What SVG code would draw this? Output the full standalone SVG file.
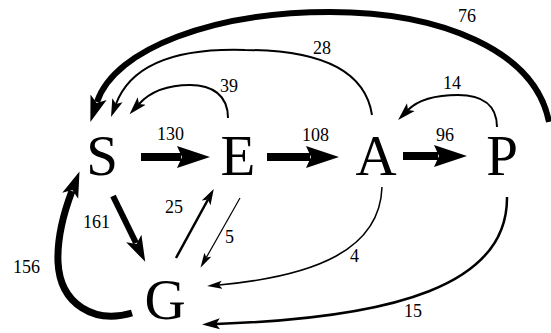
<svg xmlns="http://www.w3.org/2000/svg" width="551" height="333" viewBox="0 0 551 333">
<style>
.node{font-family:"Liberation Serif","Times New Roman",serif;font-size:57px;fill:#000;text-anchor:middle}
.lbl{font-family:"Liberation Serif","Times New Roman",serif;font-size:18px;fill:#000}
.e{fill:none;stroke:#000;stroke-linecap:butt}
</style>
<defs>
<marker id="big" markerUnits="userSpaceOnUse" markerWidth="34" markerHeight="24" viewBox="0 -12 34 24" refX="4" refY="0" orient="auto"><path d="M33,0 L0,-11 L5,0 L0,11 Z" fill="#000"/></marker>
<marker id="thick" markerUnits="userSpaceOnUse" markerWidth="27" markerHeight="18" viewBox="0 -9 27 18" refX="5" refY="0" orient="auto"><path d="M26,0 L0,-8.5 L6,0 L0,8.5 Z" fill="#000"/></marker>
<marker id="med" markerUnits="userSpaceOnUse" markerWidth="19" markerHeight="12" viewBox="0 -6 19 12" refX="4" refY="0" orient="auto"><path d="M18,0 L0,-5.5 L4,0 L0,5.5 Z" fill="#000"/></marker>
<marker id="mid" markerUnits="userSpaceOnUse" markerWidth="17" markerHeight="11" viewBox="0 -5.5 17 11" refX="4" refY="0" orient="auto"><path d="M16,0 L0,-5 L4,0 L0,5 Z" fill="#000"/></marker>
<marker id="small" markerUnits="userSpaceOnUse" markerWidth="16" markerHeight="9" viewBox="0 -4.5 16 9" refX="3" refY="0" orient="auto"><path d="M15,0 L0,-4 L3,0 L0,4 Z" fill="#000"/></marker>
</defs>
<g id="connectors">
<path id="e-S-E" class="e" d="M141,157 L181,157" stroke-width="8" marker-end="url(#big)"/>
<path id="e-E-A" class="e" d="M267,157 L310,157" stroke-width="8" marker-end="url(#big)"/>
<path id="e-A-P" class="e" d="M403,156 L438,156" stroke-width="8" marker-end="url(#big)"/>
<path id="e-P-S" class="e" d="M549,122 C535,50 440,12 330,12 C215,12 115,48 97,102" stroke-width="6" marker-end="url(#thick)"/>
<path id="e-A-S" class="e" d="M372,115 C365,70 320,50 245,50 C180,48 132,62 116,104" stroke-width="2" marker-end="url(#med)"/>
<path id="e-E-S" class="e" d="M228,118 C228,95 212,85 190,85 C168,85 150,92 139,104" stroke-width="2" marker-end="url(#med)"/>
<path id="e-P-A" class="e" d="M497,127 C497,105 482,95 458,95 C435,95 418,100 408,110" stroke-width="2" marker-end="url(#med)"/>
<path id="e-S-G" class="e" d="M113,196 L136,243" stroke-width="6" marker-end="url(#thick)"/>
<path id="e-G-E" class="e" d="M176,258 L208,199.5" stroke-width="2.5" marker-end="url(#mid)"/>
<path id="e-E-G" class="e" d="M240,198 L206.4,257.4" stroke-width="1.2" marker-end="url(#small)"/>
<path id="e-G-S" class="e" d="M132,313 C95,324 60,305 58,262 C57,235 64,212 72,191" stroke-width="7" marker-end="url(#thick)"/>
<path id="e-A-G" class="e" d="M382,187 C380,250 315,276 219,285" stroke-width="1.5" marker-end="url(#small)"/>
<path id="e-P-G" class="e" d="M507,197 C508,285 395,318 216,324" stroke-width="2.5" marker-end="url(#med)"/>
</g>
<g id="labels">
<text class="lbl" x="157" y="140">130</text>
<text class="lbl" x="302" y="141">108</text>
<text class="lbl" x="436" y="141">96</text>
<text class="lbl" x="458" y="22">76</text>
<text class="lbl" x="313" y="54">28</text>
<text class="lbl" x="220" y="92">39</text>
<text class="lbl" x="443" y="89">14</text>
<text class="lbl" x="83" y="228">161</text>
<text class="lbl" x="165" y="213">25</text>
<text class="lbl" x="225" y="243">5</text>
<text class="lbl" x="13" y="273">156</text>
<text class="lbl" x="350" y="262">4</text>
<text class="lbl" x="404" y="317">15</text>
</g>
<g id="node-S"><text class="node" x="102" y="175">S</text></g>
<g id="node-E"><text class="node" x="238" y="175">E</text></g>
<g id="node-A"><text class="node" x="376" y="175">A</text></g>
<g id="node-P"><text class="node" x="502" y="175">P</text></g>
<g id="node-G"><text class="node" x="165" y="319">G</text></g>
</svg>
